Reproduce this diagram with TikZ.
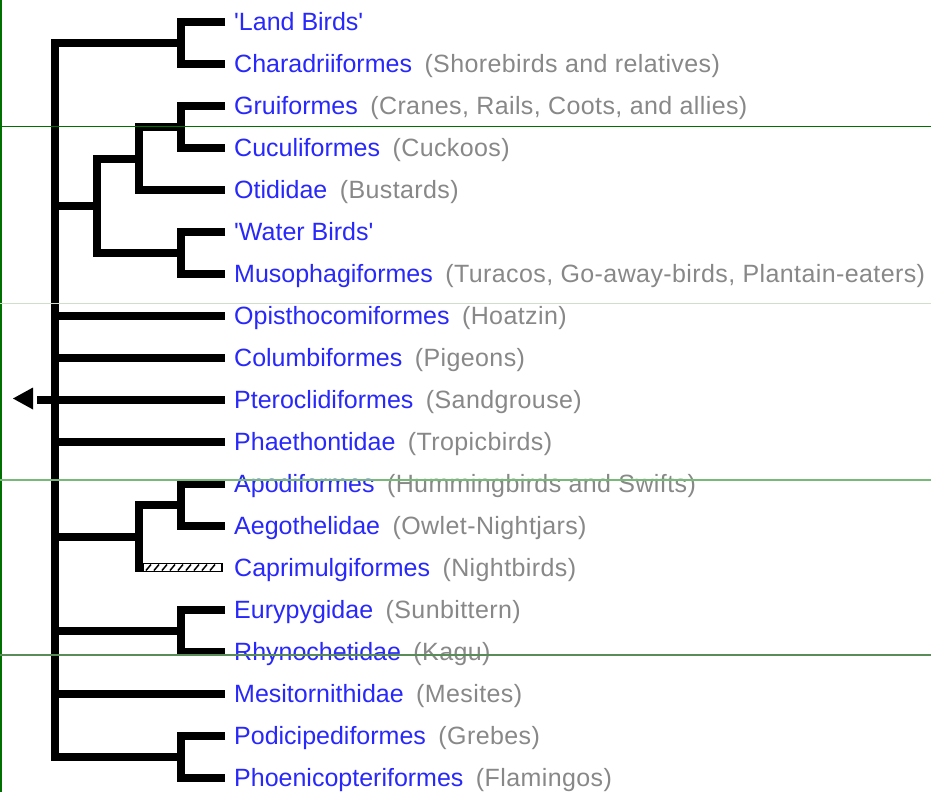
\documentclass[tikz,border=0pt]{standalone}
\usepackage{fontspec}
\setmainfont{Liberation Sans}[Ligatures=TeXOff]
\definecolor{taxblue}{RGB}{40,40,250}
\definecolor{notegray}{RGB}{136,136,136}
\definecolor{gdark}{RGB}{0,112,0}
\definecolor{glight}{RGB}{208,224,200}
\definecolor{gmid}{RGB}{120,184,120}
\definecolor{gdeep}{RGB}{90,140,90}
\tikzset{
  branch/.style={line width=8pt, line join=miter, line cap=butt, black},
  leaf/.style={anchor=base west, inner sep=0pt, font=\fontsize{25}{28}\selectfont, text=taxblue},
}
\newcommand{\note}[1]{\hspace{12.5pt}{\addfontfeature{LetterSpace=1.6}\textcolor{notegray}{#1}}}
\begin{document}
\begin{tikzpicture}[x=1pt,y=-1pt]
\useasboundingbox (0,0) rectangle (931,792);
\fill[white] (0,0) rectangle (931,792);
% leaf end coordinates
\foreach \i/\yy in {1/22,2/64,3/106,4/148,5/190,6/232,7/274,8/316,9/358,10/400,11/442,12/484,13/526,14/568,15/610,16/652,17/694,18/736,19/778}{
  \coordinate (e\i) at (225,\yy);
}
% labels
\node[leaf] (t1) at (234,30.5) {'Land Birds'};
\node[leaf] (t2) at (234,72.5) {Charadriiformes\note{(Shorebirds and relatives)}};
\node[leaf] (t3) at (234,114.5) {Gruiformes\note{(Cranes, Rails, Coots, and allies)}};
\node[leaf] (t4) at (234,156.5) {Cuculiformes\note{(Cuckoos)}};
\node[leaf] (t5) at (234,198.5) {Otididae\note{(Bustards)}};
\node[leaf] (t6) at (234,240.5) {'Water Birds'};
\node[leaf] (t7) at (234,282.5) {Musophagiformes\note{(Turacos, Go-away-birds, Plantain-eaters)}};
\node[leaf] (t8) at (234,324.5) {Opisthocomiformes\note{(Hoatzin)}};
\node[leaf] (t9) at (234,366.5) {Columbiformes\note{(Pigeons)}};
\node[leaf] (t10) at (234,408.5) {Pteroclidiformes\note{(Sandgrouse)}};
\node[leaf] (t11) at (234,450.5) {Phaethontidae\note{(Tropicbirds)}};
\node[leaf] (t12) at (234,492.5) {Apodiformes\note{(Hummingbirds and Swifts)}};
\node[leaf] (t13) at (234,534.5) {Aegothelidae\note{(Owlet-Nightjars)}};
\node[leaf] (t14) at (234,576.5) {Caprimulgiformes\note{(Nightbirds)}};
\node[leaf] (t15) at (234,618.5) {Eurypygidae\note{(Sunbittern)}};
\node[leaf] (t16) at (234,660.5) {Rhynochetidae\note{(Kagu)}};
\node[leaf] (t17) at (234,702.5) {Mesitornithidae\note{(Mesites)}};
\node[leaf] (t18) at (234,744.5) {Podicipediformes\note{(Grebes)}};
\node[leaf] (t19) at (234,786.5) {Phoenicopteriformes\note{(Flamingos)}};
% internal node coordinates
\coordinate (cA) at (181,43);
\coordinate (cB) at (181,127);
\coordinate (cC) at (139,158.5);
\coordinate (cD) at (181,253);
\coordinate (cE) at (97,205.75);
\coordinate (cF) at (181,505);
\coordinate (cG) at (139,536.5);
\coordinate (cH) at (181,631);
\coordinate (cI) at (181,757);
\coordinate (rtop) at (55,43);
\coordinate (rbot) at (55,757);
\coordinate (arr) at (37,400);
% clades
\draw[branch] (e1) -| (cA) |- (e2);
\draw[branch] (e3) -| (cB) |- (e4);
\draw[branch] (cB) -| (cC) |- (e5);
\draw[branch] (e6) -| (cD) |- (e7);
\draw[branch] (cC) -| (cE) |- (cD);
\draw[branch] (e12) -| (cF) |- (e13);
\draw[branch] (cF) -| (cG) -- (139,572);
\draw[branch] (e15) -| (cH) |- (e16);
\draw[branch] (e18) -| (cI) |- (e19);
% root
\draw[branch] (cA) -- (rtop) -- (rbot) -- (cI);
\draw[branch] (55,205.75) -- (cE);
\draw[branch] (55,316) -- (e8);
\draw[branch] (55,358) -- (e9);
\draw[branch] (arr) -- (e10);
\draw[branch] (55,442) -- (e11);
\draw[branch] (55,536.5) -- (cG);
\draw[branch] (55,631) -- (cH);
\draw[branch] (55,694) -- (e17);
% arrow head
\fill[black] (13,398.5) -- (33,387.5) -- (33,409.5) -- cycle;
% hatched branch to Caprimulgiformes
\draw[black, line width=1.3pt] (143,563.5) rectangle (222,571.5);
\foreach \hx in {146,154,...,214}{
  \draw[black, line width=1.5pt] (\hx,570.5) -- (\hx+5,564.5);
}
% overlay lines
\draw[gdark, line width=1.5pt] (0.75,0) -- (0.75,792);
\draw[gdark, line width=1.3pt] (0,126.5) -- (931,126.5);
\draw[glight, line width=1.2pt] (0,303.5) -- (931,303.5);
\draw[gmid, line width=1.2pt] (0,480) -- (931,480);
\draw[gdeep, line width=1.2pt] (0,655) -- (931,655);
\end{tikzpicture}
\end{document}
